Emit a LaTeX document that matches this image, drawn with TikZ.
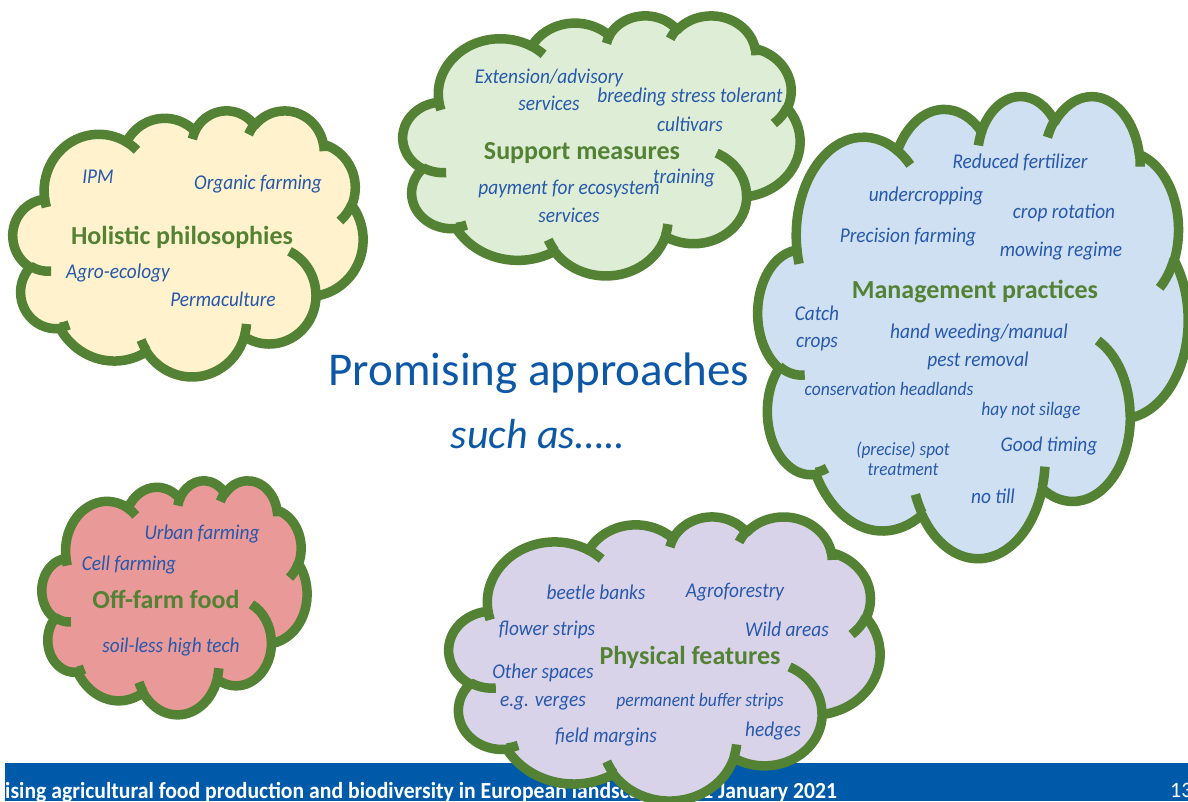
\documentclass[tikz,border=0pt]{standalone}
\usepackage{fontspec}
\setmainfont{Carlito}
\newfontfamily\itemfont[FakeStretch=0.92]{Carlito}
\definecolor{cgreen}{RGB}{84,130,53}
\definecolor{itemblue}{RGB}{38,88,172}
\definecolor{titleblue}{RGB}{12,88,166}
\definecolor{barblue}{RGB}{0,90,170}
\definecolor{fillA}{RGB}{255,242,204}
\definecolor{fillB}{RGB}{222,237,214}
\definecolor{fillC}{RGB}{207,224,242}
\definecolor{fillD}{RGB}{232,153,152}
\definecolor{fillE}{RGB}{217,211,233}
% OOXML-style arc: name, wR, hR, start angle, sweep angle (visual angles)
\newcommand\defarc[5]{%
  \pgfmathsetmacro\tmpa{atan2((#2)*sin(#4),(#3)*cos(#4))}%
  \pgfmathsetmacro\tmpb{atan2((#2)*sin((#4)+(#5)),(#3)*cos((#4)+(#5)))}%
  \pgfmathsetmacro\tmpd{\tmpb-\tmpa}%
  \pgfmathsetmacro\tmpd{ifthenelse(\tmpd<0,\tmpd+360,\tmpd)}%
  \expandafter\xdef\csname cld#1\endcsname{arc[start angle=\tmpa, delta angle=\tmpd, x radius=#2, y radius=#3]}%
}
\defarc{oA}{67.53}{91.90}{-190.48748}{123.78053}
\defarc{oB}{53.33}{72.67}{-144.10238}{89.94523}
\defarc{oC}{43.65}{59.45}{-145.80792}{99.72302}
\defarc{oD}{48.57}{65.95}{-130.98607}{117.24173}
\defarc{oE}{53.33}{72.73}{-78.70888}{109.02692}
\defarc{oF}{67.75}{92.20}{-46.26725}{130.269}
\defarc{oG}{57.85}{78.67}{0.62502}{114.03333}
\defarc{oH}{67.52}{92.15}{22.4516}{115.17255}
\defarc{oI}{77.20}{105.43}{66.24263}{75.71102}
\defarc{oJ}{43.60}{59.18}{-274.94208}{146.73557}
\defarc{oK}{43.45}{59.45}{-246.8285}{152.51885}
\defarc{ia}{43.45}{59.45}{86.742}{26.4295}
\defarc{ib}{43.60}{59.18}{73.61047}{11.44747}
\defarc{ic}{67.52}{92.15}{137.62415}{14.0811}
\defarc{id}{67.52}{92.15}{6.45327}{15.99835}
\defarc{ie}{57.85}{78.67}{-70.29235}{70.91737}
\defarc{if}{53.33}{72.73}{30.31803}{27.7515}
\defarc{ig}{48.57}{65.95}{-13.74433}{14.8589}
\defarc{ih}{48.57}{65.95}{-149.18145}{18.19537}
\defarc{ii}{43.65}{59.45}{-163.49427}{17.68635}
\defarc{ij}{67.53}{91.90}{-66.70695}{12.31935}
\defarc{ik}{67.53}{91.90}{157.65435}{11.85817}
\def\cloudouter{(39.00,143.70) \cldoA \cldoB \cldoC \cldoD \cldoE \cldoF \cldoG \cldoH \cldoI \cldoJ \cldoK -- cycle}
\def\cloudinner{(46.93,261.77) \cldia (69.28,348.99) \cldib (164.78,390.90) \cldic
  (288.27,347.51) \cldid (341.29,229.54) \cldie (417.98,153.54) \cldif
  (383.24,54.26) \cldig (290.78,39.52) \cldih (221.41,47.20) \cldii
  (140.00,51.92) \cldij (41.27,157.89) \cldik}
\newcommand\cloudat[5]{%
  \begin{scope}[shift={(#1,#2)}, xscale=#3/432, yscale=#4/432]
    \filldraw[fill=#5, cloudline] \cloudouter;
    \draw[cloudline] \cloudinner;
  \end{scope}}
\begin{document}
\begin{tikzpicture}[x=1pt,y=-1pt,
  cloudline/.style={draw=cgreen, line width=9.5pt, line join=round},
  itm/.style={font=\itemfont\itshape\fontsize{21}{25}\selectfont, text=itemblue, anchor=base, inner sep=0pt},
  itms/.style={itm, font=\itemfont\itshape\fontsize{19.1}{22}\selectfont},
  itmx/.style={itm, font=\itemfont\itshape\fontsize{18.7}{21}\selectfont},
  ttl/.style={font=\bfseries\fontsize{26}{30}\selectfont, text=cgreen, anchor=base, inner sep=0pt},
  bartext/.style={font=\bfseries\fontsize{23}{26}\selectfont, text=white, inner sep=0pt}]
\useasboundingbox (0,0) rectangle (1188,801);
\fill[white] (0,0) rectangle (1188,801);
% footer bar
\fill[barblue] (5,763) rectangle (1188,801);
\node[bartext, anchor=base west] (bartxt) at (5,798) {\scalebox{0.943}[1]{ising agricultural food production and biodiversity in European landscapes – 21 January 2021}};
\node[bartext, font=\fontsize{22}{24}\selectfont, anchor=base west] (pageno) at (1170,797) {13};
% clouds
\cloudat{13}{110}{350}{266}{fillA}
\cloudat{403}{15}{397}{260}{fillB}
\cloudat{758}{95}{430}{462}{fillC}
\cloudat{42}{480}{265}{234}{fillD}
\cloudat{449}{516}{431}{284}{fillE}
% central text
\node[font=\fontsize{47}{50}\selectfont, text=titleblue, anchor=base, inner sep=0pt] (main) at (539,385) {Promising approaches};
\node[font=\itshape\fontsize{42}{46}\selectfont, text=titleblue, anchor=base, inner sep=0pt] (such) at (538,448) {such as…..};
% holistic
\node[itm] (h1) at (98,183) {IPM};
\node[itm] (h2) at (258,189) {Organic farming};
\node[ttl] (ht) at (182,244) {Holistic philosophies};
\node[itm] (h3) at (118,278) {Agro-ecology};
\node[itm] (h4) at (223,306) {Permaculture};
% support
\node[itm] (s1) at (549,83) {Extension/advisory};
\node[itm] (s2) at (549,110) {services};
\node[itm] (s3) at (690,102) {breeding stress tolerant};
\node[itm] (s4) at (690,131) {cultivars};
\node[ttl] (st) at (582,159) {Support measures};
\node[itm] (s5) at (684,183) {training};
\node[itm] (s6) at (569,194) {payment for ecosystem};
\node[itm] (s7) at (569,222) {services};
% management
\node[itm] (m1) at (1020,168) {Reduced fertilizer};
\node[itm] (m2) at (926,201) {undercropping};
\node[itm] (m3) at (1064,218) {crop rotation};
\node[itm] (m4) at (908,242) {Precision farming};
\node[itm] (m5) at (1061,256) {mowing regime};
\node[ttl] (mt) at (975,298) {Management practices};
\node[itm] (m6) at (817,320) {Catch};
\node[itm] (m7) at (817,347) {crops};
\node[itm] (m8) at (979,338) {hand weeding/manual};
\node[itm] (m9) at (978,366) {pest removal};
\node[itms] (m10) at (889,395) {conservation headlands};
\node[itms] (m11) at (1031,415) {hay not silage};
\node[itmx] (m12) at (903,455) {(precise) spot};
\node[itmx] (m13) at (903,475) {treatment};
\node[itm] (m14) at (1049,451) {Good timing};
\node[itm] (m15) at (993,503) {no till};
% off-farm
\node[itm] (o1) at (202,539) {Urban farming};
\node[itm] (o2) at (129,570) {Cell farming};
\node[ttl] (ot) at (166,608) {Off-farm food};
\node[itm] (o3) at (171,652) {soil-less high tech};
% physical
\node[itm] (p1) at (596,599) {beetle banks};
\node[itm] (p2) at (735,597) {Agroforestry};
\node[itm] (p3) at (547,635) {flower strips};
\node[itm] (p4) at (787,636) {Wild areas};
\node[ttl] (pt) at (690,664) {Physical features};
\node[itm] (p5) at (543,678) {Other spaces};
\node[itm] (p6) at (543,706) {e.g. verges};
\node[itms] (p7) at (700,706) {permanent buffer strips};
\node[itm] (p8) at (606,742) {field margins};
\node[itm] (p9) at (773,736) {hedges};
\end{tikzpicture}
\end{document}
